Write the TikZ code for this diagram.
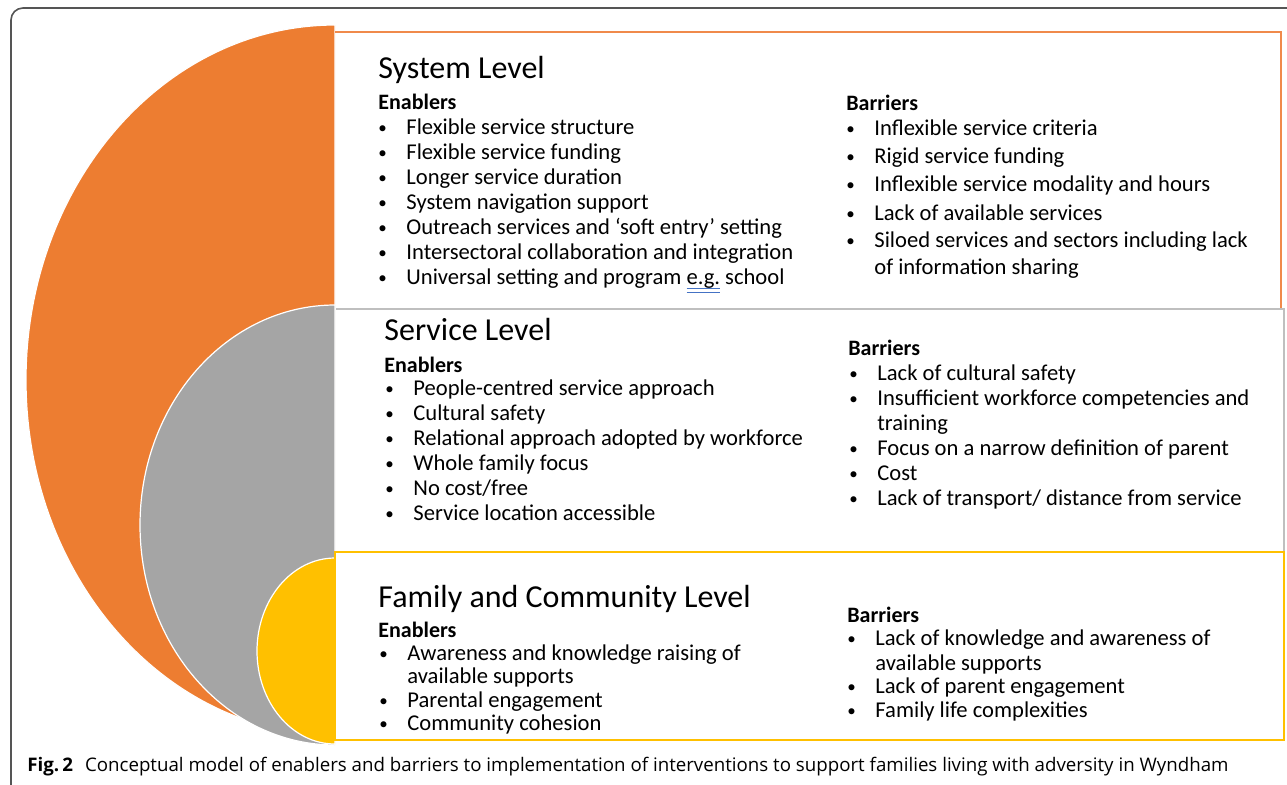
\documentclass[tikz,border=0pt]{standalone}
\usepackage{fontspec}
\setmainfont{Carlito}
\newfontfamily\capfont{Open Sans}

\definecolor{lvlorange}{HTML}{ED7D31}
\definecolor{lvlgray}{HTML}{A5A5A5}
\definecolor{lvlyellow}{HTML}{FFC000}
\definecolor{boxorange}{HTML}{F08A4B}
\definecolor{boxgray}{HTML}{BFBFBF}
\definecolor{framegray}{HTML}{555555}
\definecolor{spellblue}{HTML}{4472C4}

\newcommand{\bul}{\makebox[14pt][l]{\fontsize{8.5}{8.5}\selectfont\raisebox{0.4pt}{\textbullet}}}
\newcommand{\spellmark}[1]{\leavevmode\setbox0=\hbox{#1}%
  \rlap{\color{spellblue}\raisebox{-2.3pt}{\rule{\wd0}{0.5pt}}}%
  \rlap{\color{spellblue}\raisebox{-4.3pt}{\rule{\wd0}{0.5pt}}}\box0\relax}

\tikzset{
  title/.style={anchor=base west, inner sep=0pt, font=\fontsize{16}{19}\selectfont},
  head/.style={anchor=base west, inner sep=0pt, font=\bfseries\fontsize{11}{13}\selectfont},
  itm/.style={anchor=base west, inner sep=0pt, font=\fontsize{11.3}{13.5}\selectfont},
  ring/.style={draw=white, line width=0.6pt}
}

\begin{document}
\begin{tikzpicture}[x=0.5pt, y=-0.5pt]
        \useasboundingbox (0,0) rectangle (1287,784);

        % Outer frame
        \begin{scope}
            \clip (0,0) rectangle (1287,784);
            \draw[framegray, line width=0.8pt, rounded corners=6pt] (11,8) rectangle (1320,800);
        \end{scope}

        % Level shapes
        \filldraw[ring, fill=lvlorange] (335,25) arc[start angle=90, end angle=270, x radius=154.5pt, y radius=177.5pt] -- cycle;
        \filldraw[ring, fill=lvlgray] (335,305) arc[start angle=90, end angle=270, x radius=97.5pt, y radius=110pt] -- cycle;
        \filldraw[ring, fill=lvlyellow] (335,558) arc[start angle=90, end angle=270, x radius=39pt, y radius=46.5pt] -- cycle;

        % Level boxes
        \draw[boxorange, line width=0.8pt] (335,32) -- (1281,32) -- (1281,309);
        \draw[boxgray, line width=1pt] (336,309) -- (1284,309) -- (1284,552);
        \draw[lvlyellow, line width=1pt] (335,552) rectangle (1284,740);

        % System level
        \node[title] (systitle) at (378,78) {System Level};
        \node[head] (sysen) at (378,109) {Enablers};
        \node[itm] (sysen1) at (378,134) {\bul Flexible service structure};
        \node[itm] (sysen2) at (378,159) {\bul Flexible service funding};
        \node[itm] (sysen3) at (378,184) {\bul Longer service duration};
        \node[itm] (sysen4) at (378,209) {\bul System navigation support};
        \node[itm] (sysen5) at (378,234) {\bul Outreach services and ‘soft entry’ setting};
        \node[itm] (sysen6) at (378,259) {\bul Intersectoral collaboration and integration};
        \node[itm] (sysen7) at (378,284) {\bul Universal setting and program \spellmark{e.g.} school};

        \node[head] (sysbar) at (846,110) {Barriers};
        \node[itm] (sysbar1) at (846,135) {\bul Inflexible service criteria};
        \node[itm] (sysbar2) at (846,163) {\bul Rigid service funding};
        \node[itm] (sysbar3) at (846,191) {\bul Inflexible service modality and hours};
        \node[itm] (sysbar4) at (846,220) {\bul Lack of available services};
        \node[itm] (sysbar5) at (846,247) {\bul Siloed services and sectors including lack};
        \node[itm] (sysbar5b) at (874,274) {of information sharing};

        % Service level
        \node[title] (servtitle) at (384,340) {Service Level};
        \node[head] (serven) at (384,372) {Enablers};
        \node[itm] (serven1) at (385,395) {\bul People-centred service approach};
        \node[itm] (serven2) at (385,420) {\bul Cultural safety};
        \node[itm] (serven3) at (385,445) {\bul Relational approach adopted by workforce};
        \node[itm] (serven4) at (385,470) {\bul Whole family focus};
        \node[itm] (serven5) at (385,495) {\bul No cost/free};
        \node[itm] (serven6) at (385,520) {\bul Service location accessible};

        \node[head] (servbar) at (848,355) {Barriers};
        \node[itm] (servbar1) at (849,380) {\bul Lack of cultural safety};
        \node[itm] (servbar2) at (849,405) {\bul Insufficient workforce competencies and};
        \node[itm] (servbar2b) at (877,430) {training};
        \node[itm] (servbar3) at (849,455) {\bul Focus on a narrow definition of parent};
        \node[itm] (servbar4) at (849,480) {\bul Cost};
        \node[itm] (servbar5) at (849,505) {\bul Lack of transport/ distance from service};

        % Family and community level
        \node[title] (famtitle) at (378,607) {Family and Community Level};
        \node[head] (famen) at (378,637) {Enablers};
        \node[itm] (famen1) at (379,660) {\bul Awareness and knowledge raising of};
        \node[itm] (famen1b) at (407,683) {available supports};
        \node[itm] (famen2) at (379,707) {\bul Parental engagement};
        \node[itm] (famen3) at (379,730) {\bul Community cohesion};

        \node[head] (fambar) at (847,622) {Barriers};
        \node[itm] (fambar1) at (847,645) {\bul Lack of knowledge and awareness of};
        \node[itm] (fambar1b) at (875,670) {available supports};
        \node[itm] (fambar2) at (847,693) {\bul Lack of parent engagement};
        \node[itm] (fambar3) at (847,717) {\bul Family life complexities};

        % Caption
        \node[anchor=base west, inner sep=0pt, font=\capfont\fontsize{9.35}{11}\selectfont] (caption) at (27,771)
            {\textbf{Fig.\,2}\hspace{6pt}Conceptual model of enablers and barriers to implementation of interventions to support families living with adversity in Wyndham};
    \end{tikzpicture}
\end{document}
